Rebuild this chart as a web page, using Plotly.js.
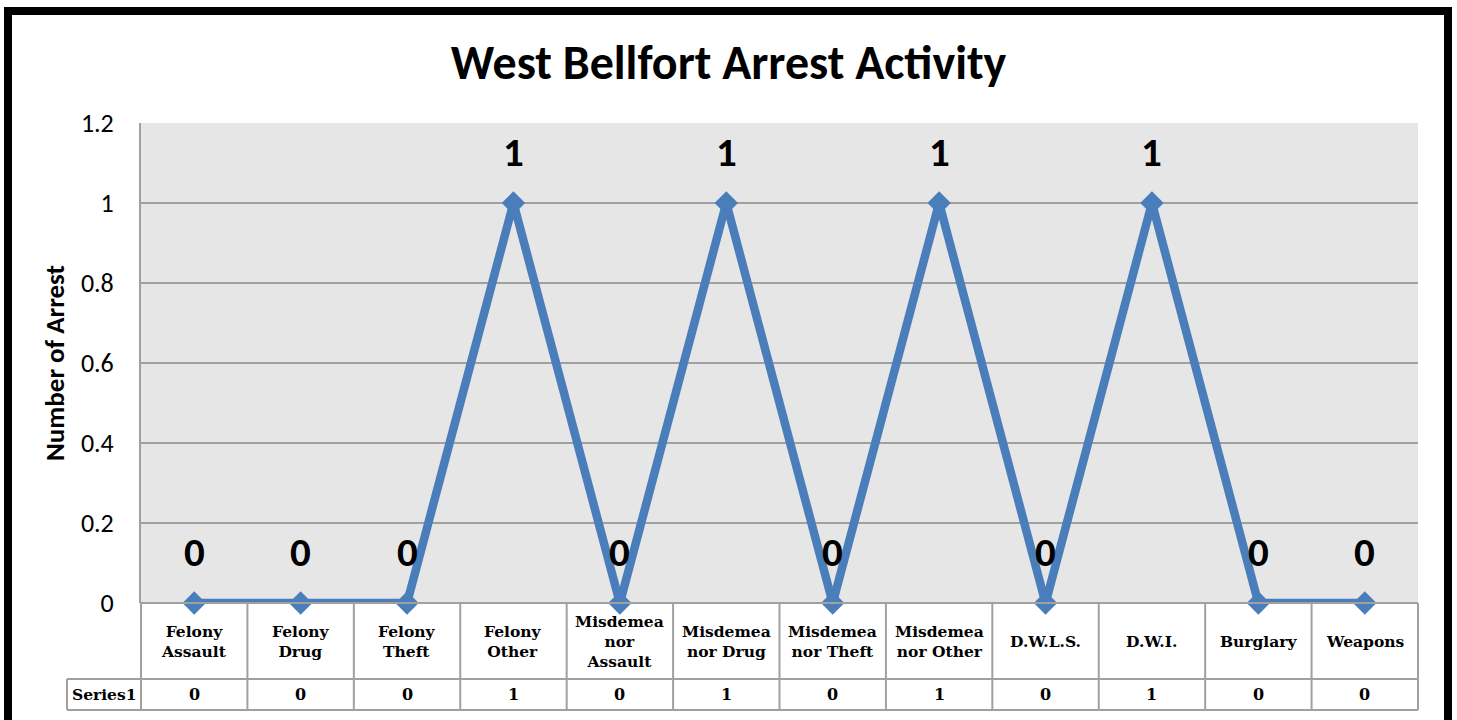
<!DOCTYPE html>
<html>
<head>
<meta charset="utf-8">
<script src="https://cdn.plot.ly/plotly-3.0.1.min.js"></script>
<style>html,body{margin:0;padding:0;background:#fff}#chart{width:1457px;height:720px}</style>
</head>
<body>
<div id="chart"></div>
<script>
var categories = ["Felony Assault","Felony Drug","Felony Theft","Felony Other","Misdemeanor Assault","Misdemeanor Drug","Misdemeanor Theft","Misdemeanor Other","D.W.L.S.","D.W.I.","Burglary","Weapons"];
var tickLabels = ["Felony<br>Assault","Felony<br>Drug","Felony<br>Theft","Felony<br>Other","Misdemea<br>nor<br>Assault","Misdemea<br>nor Drug","Misdemea<br>nor Theft","Misdemea<br>nor Other","D.W.L.S.","D.W.I.","Burglary","Weapons"];
var series1 = [0,0,0,1,0,1,0,1,0,1,0,0];
var seriesName = "Series1";
var yTicks = [0,0.2,0.4,0.6,0.8,1,1.2];

var n = categories.length;
var idx = categories.map(function(_, i){ return i; });

var W = 1457, H = 720;
var M = {l:141, r:39, t:123, b:117};
var plotW = W - M.l - M.r, plotH = H - M.t - M.b;
function py(pix){ return (H - M.b - pix) / plotH; } // pixel row -> paper y
function px(pix){ return (pix - M.l) / plotW; }       // pixel col -> paper x

var gridCol = "#a0a0a0";
var blue = "#4a7ebb";
var sansFont = "Calibri, Carlito, Lato, 'Open Sans', sans-serif";
var serifFont = "'Book Antiqua', 'Palatino Linotype', Palatino, 'DejaVu Serif', serif";

var rowTop = 0, rowMid = py(679), rowBot = py(710);

var shapes = [];
shapes.push({type:'line', xref:'paper', yref:'paper', x0:0, x1:1, y0:rowTop, y1:rowTop, line:{color:gridCol, width:2}});
shapes.push({type:'line', xref:'paper', yref:'paper', x0:px(67), x1:1, y0:rowMid, y1:rowMid, line:{color:gridCol, width:2}});
shapes.push({type:'line', xref:'paper', yref:'paper', x0:px(67), x1:1, y0:rowBot, y1:rowBot, line:{color:gridCol, width:2}});
for (var i = 0; i <= n; i++) {
  shapes.push({type:'line', xref:'paper', yref:'paper', x0:i/n, x1:i/n, y0:rowTop, y1:rowBot, line:{color:gridCol, width:2}});
}
shapes.push({type:'line', xref:'paper', yref:'paper', x0:px(67), x1:px(67), y0:rowMid, y1:rowBot, line:{color:gridCol, width:2}});
shapes.push({type:'rect', xref:'paper', yref:'paper', x0:px(8), x1:px(1448), y0:py(11), y1:py(740), line:{color:'#000', width:8}, fillcolor:'rgba(0,0,0,0)'});

var annotations = [];
series1.forEach(function(v, i){
  annotations.push({x:i, y:v, xref:'x', yref:'y', text:String(v), showarrow:false, yshift:51, xanchor:'center', yanchor:'middle',
    font:{family:sansFont, size:41, color:'#000', weight:'bold'}});
});
tickLabels.forEach(function(t, i){
  annotations.push({x:i, xref:'x', y:(rowTop+rowMid)/2, yref:'paper', text:'<b>'+t+'</b>', showarrow:false, xanchor:'center', yanchor:'middle',
    font:{family:serifFont, size:15.5, color:'#000'}});
  annotations.push({x:i, xref:'x', y:(rowMid+rowBot)/2, yref:'paper', text:'<b>'+series1[i]+'</b>', showarrow:false, xanchor:'center', yanchor:'middle',
    font:{family:serifFont, size:16, color:'#000'}});
});
annotations.push({x:px(67)/2, xref:'paper', y:(rowMid+rowBot)/2, yref:'paper', text:'<b>'+seriesName+'</b>', showarrow:false, xanchor:'center', yanchor:'middle',
  font:{family:serifFont, size:15.5, color:'#000'}});

var trace = {
  x: idx, y: series1, name: seriesName, type:'scatter', mode:'lines+markers',
  line:{color:blue, width:8.5},
  marker:{symbol:'diamond', size:18, color:blue},
  cliponaxis:false, hoverinfo:'skip'
};

var layout = {
  width:W, height:H,
  margin:M,
  paper_bgcolor:'#fff', plot_bgcolor:'#e6e6e6',
  showlegend:false,
  title:{text:'<b>West Bellfort Arrest Activity</b>', x:0.5, xanchor:'center', xref:'container', y:1-62/H, yref:'container', yanchor:'middle',
    font:{family:sansFont, size:48, color:'#000'}},
  xaxis:{range:[-0.5, n-0.5], showgrid:false, zeroline:false, showticklabels:false, ticks:'', showline:false, fixedrange:true},
  yaxis:{range:[0,1.2], tickvals:yTicks, ticktext:yTicks.map(String), showgrid:true, gridcolor:gridCol, gridwidth:2,
    zeroline:false, showline:true, linecolor:gridCol, linewidth:2, ticks:'', ticklabelstandoff:20,
    tickfont:{family:sansFont, size:26, color:'#000'},
    title:{text:'<b>Number of Arrest</b>', standoff:8, font:{family:sansFont, size:27, color:'#000'}}, fixedrange:true},
  shapes:shapes,
  annotations:annotations
};

Plotly.newPlot('chart', [trace], layout, {displayModeBar:false, staticPlot:true});
</script>
</body>
</html>
